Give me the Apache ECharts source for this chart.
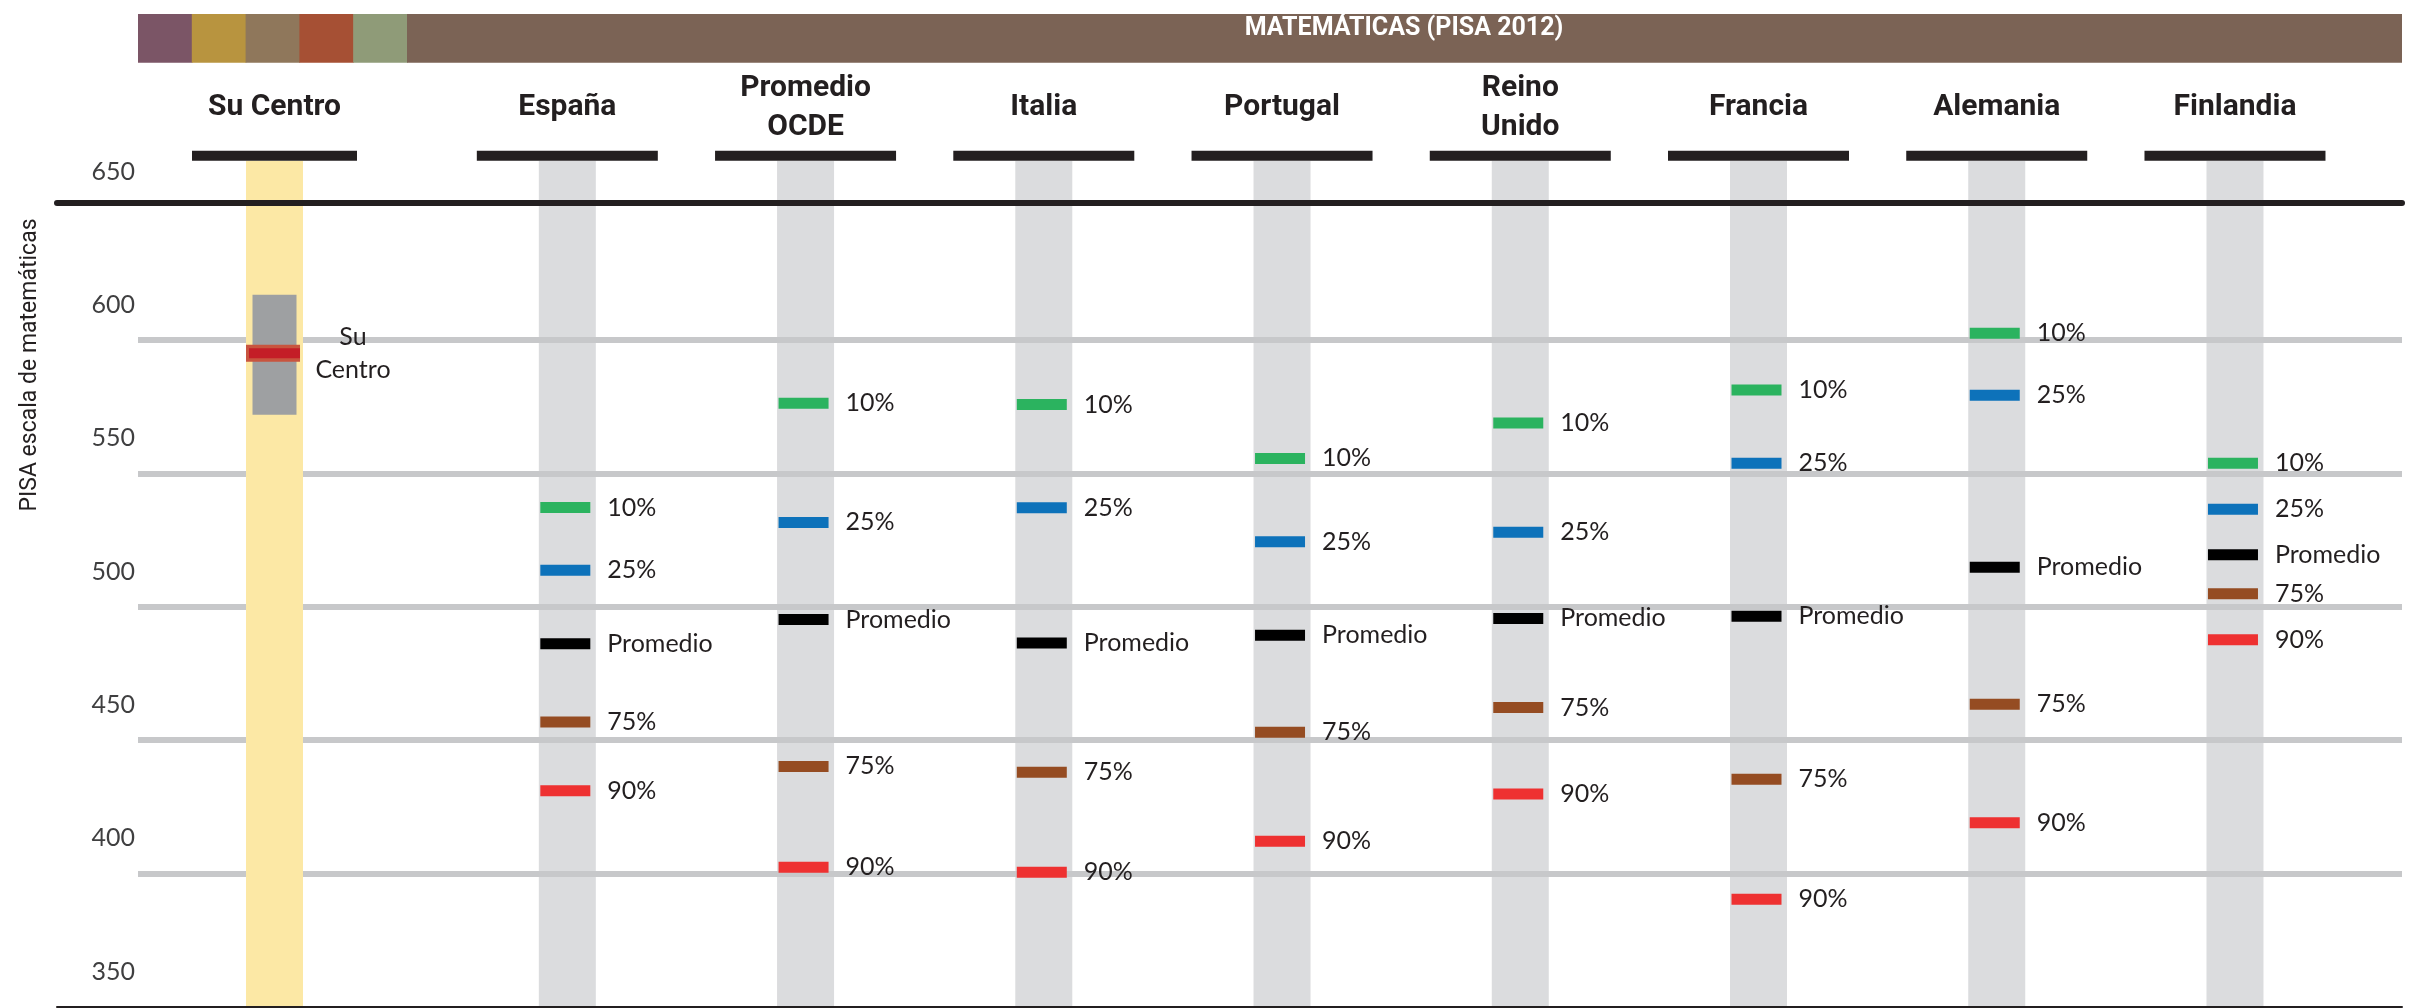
<!DOCTYPE html>
<html><head><meta charset="utf-8">
<script src="https://cdn.jsdelivr.net/npm/echarts@6/dist/echarts.min.js"></script>
<style>html,body{margin:0;padding:0;background:#fff}#chart{width:2412px;height:1008px}</style>
</head><body><div id="chart"></div>
<script>
// ---------------- DATA ----------------
const chartTitle = 'MATEMÁTICAS (PISA 2012)';
const yAxisName = 'PISA escala de matemáticas';
const centerName = ['Su Centro'];
const centerLow = [572];
const centerHigh = [617];
const centerScore = [595];
const centerLabel = 'Su\nCentro';
const countries = ['España', 'Promedio\nOCDE', 'Italia', 'Portugal', 'Reino\nUnido', 'Francia', 'Alemania', 'Finlandia'];
const p10 = [537.2, 576.3, 575.8, 555.6, 568.9, 581.3, 602.5, 553.8];
const p25 = [513.7, 531.6, 537.1, 524.4, 527.9, 553.8, 579.3, 536.5];
const promedio = [486.1, 495.2, 486.4, 489.3, 495.6, 496.4, 514.8, 519.5];
const p75 = [456.8, 440.1, 437.9, 452.9, 462.2, 435.3, 463.4, 504.9];
const p90 = [431.0, 402.3, 400.4, 412.0, 429.8, 390.3, 419.0, 487.6];
const markerNames = ['10%', '25%', 'Promedio', '75%', '90%'];
const markerValues = [p10, p25, promedio, p75, p90];
const yMin = 350, yMax = 650, yStep = 50;

// ---------------- STYLE ----------------
const markerColors = ['#2BB35F', '#0D72BA', '#000000', '#954C22', '#EE3131'];
const bandColors = ['#7B5566', '#B8943F', '#8F775B', '#A65034', '#8F9B78'];
const bandBrown = '#7B6355';
const ink = '#231F20';
const colGray = '#DBDCDE';
const lineGray = '#C7C8CA';
const yellow = '#FCE8A5';
const labelFont = 'Lato, "Noto Sans", sans-serif';
const headFont = 'Roboto, "Noto Sans", sans-serif';

const GT = 206.7, GB = 1.3;

const chart = echarts.init(document.getElementById('chart'), null, {renderer: 'canvas'});

function columnRender(colW, barW) {
  return function (params, api) {
    const c = api.coord([api.value(0), yMax]);
    const cs = params.coordSys;
    const bottom = cs.y + cs.height + 3;
    return {
      type: 'group',
      children: [
        {type: 'rect', shape: {x: c[0] - colW / 2, y: cs.y - 46, width: colW, height: bottom - (cs.y - 46)},
         style: {fill: params.seriesIndex === 0 ? yellow : colGray}},
        {type: 'rect', shape: {x: c[0] - barW / 2, y: cs.y - 56, width: barW, height: 10}, style: {fill: ink}}
      ]
    };
  };
}

const scatterSeries = markerNames.map((name, k) => ({
  type: 'scatter', name: name, xAxisIndex: 4, yAxisIndex: 3, z: 5,
  data: markerValues[k],
  symbol: 'rect', symbolSize: [50, 11], symbolOffset: [-2, 0],
  itemStyle: {color: markerColors[k], opacity: 1},
  label: {show: true, position: 'right', distance: 17, formatter: name,
          color: ink, fontFamily: labelFont, fontSize: 25},
  emphasis: {disabled: true}, silent: true
}));

const option = {
  animation: false,
  backgroundColor: '#fff',
  graphic: [
    ...bandColors.map((col, i) => ({type: 'rect', shape: {x: 138 + i * 53.8, y: 14, width: 54.5, height: 48.7}, style: {fill: col}})),
    {type: 'rect', shape: {x: 407, y: 14, width: 1995, height: 48.7}, style: {fill: bandBrown}},
    {type: 'text', x: 1404, y: 29, style: {text: chartTitle, align: 'center', verticalAlign: 'middle', fill: '#fff',
      fontSize: 25, fontWeight: 'bold', fontFamily: headFont}},
    {type: 'text', x: 30, y: 365, rotation: Math.PI / 2, style: {text: yAxisName, align: 'center', verticalAlign: 'middle',
      fill: ink, fontSize: 23, fontFamily: headFont}}
  ],
  grid: [
    {left: 57, right: 10, top: 203, bottom: GB, outerBoundsMode: 'none'},
    {left: 138, right: 10, top: GT, bottom: GB, outerBoundsMode: 'none'},
    {left: 174.5, width: 200, top: GT, bottom: GB, outerBoundsMode: 'none'},
    {left: 448.2, width: 1905.9, top: GT, bottom: GB, outerBoundsMode: 'none'}
  ],
  xAxis: [
    {gridIndex: 0, type: 'value', position: 'top', min: 0, max: 1, z: 10,
     axisLine: {show: true, onZero: false, lineStyle: {color: ink, width: 6}},
     axisTick: {show: false}, axisLabel: {show: false}, splitLine: {show: false}},
    {gridIndex: 0, type: 'value', position: 'bottom', min: 0, max: 1, z: 10,
     axisLine: {show: true, onZero: false, lineStyle: {color: ink, width: 2}},
     axisTick: {show: false}, axisLabel: {show: false}, splitLine: {show: false}},
    {gridIndex: 1, type: 'value', show: false, min: 0, max: 1},
    {gridIndex: 2, type: 'category', data: centerName, position: 'top',
     axisLine: {show: false}, axisTick: {show: false}, splitLine: {show: false},
     axisLabel: {margin: 99, verticalAlign: 'middle', lineHeight: 39, color: ink, fontFamily: headFont, fontWeight: 'bold', fontSize: 30}},
    {gridIndex: 3, type: 'category', data: countries, position: 'top',
     axisLine: {show: false}, axisTick: {show: false}, splitLine: {show: false},
     axisLabel: {margin: 99, verticalAlign: 'middle', lineHeight: 39, interval: 0, color: ink, fontFamily: headFont, fontWeight: 'bold', fontSize: 30}}
  ],
  yAxis: [
    {gridIndex: 0, type: 'value', min: 0, max: 1, show: false},
    {gridIndex: 1, type: 'value', min: yMin, max: yMax, interval: yStep, z: 3,
     axisLine: {show: false}, axisTick: {show: false},
     splitLine: {show: true, showMinLine: false, showMaxLine: false, lineStyle: {color: lineGray, width: 6}},
     axisLabel: {show: true, margin: 3, showMinLabel: true, showMaxLabel: true, verticalAlign: 'middle',
                 formatter: v => '{a|' + v + '}\n{b| }',
                 rich: {a: {color: '#3F3F40', fontFamily: labelFont, fontSize: 25, lineHeight: 30},
                        b: {fontSize: 10, height: 70, lineHeight: 70}}}},
    {gridIndex: 2, type: 'value', min: yMin, max: yMax, interval: yStep, show: false},
    {gridIndex: 3, type: 'value', min: yMin, max: yMax, interval: yStep, show: false}
  ],
  series: [
    {type: 'custom', name: 'centerColumn', xAxisIndex: 3, yAxisIndex: 2, z: 4, clip: false, silent: true,
     data: centerName.map((_, i) => [i, yMax]), encode: {x: 0, y: 1},
     renderItem: columnRender(57, 165)},
    {type: 'custom', name: 'countryColumns', xAxisIndex: 4, yAxisIndex: 3, z: 1, clip: false, silent: true,
     data: countries.map((_, i) => [i, yMax]), encode: {x: 0, y: 1},
     renderItem: columnRender(57, 181)},
    {type: 'custom', name: 'centerScore', xAxisIndex: 3, yAxisIndex: 2, z: 6, clip: false, silent: true,
     data: centerName.map((_, i) => [i, centerLow[i], centerHigh[i], centerScore[i]]), encode: {x: 0, y: [1, 2, 3]},
     renderItem: function (params, api) {
       const lo = api.coord([api.value(0), api.value(1)]);
       const hi = api.coord([api.value(0), api.value(2)]);
       const sc = api.coord([api.value(0), api.value(3)]);
       const x = lo[0];
       return {type: 'group', children: [
         {type: 'rect', shape: {x: x - 22, y: hi[1], width: 44, height: lo[1] - hi[1]}, style: {fill: '#9EA0A2'}},
         {type: 'rect', shape: {x: x - 28.5, y: sc[1] - 8.5, width: 54, height: 17}, style: {fill: '#C8553F'}},
         {type: 'rect', shape: {x: x - 25.5, y: sc[1] - 5, width: 51, height: 10}, style: {fill: '#C41E27'}},
         {type: 'text', x: x + 78.5, y: sc[1], style: {text: centerLabel, align: 'center', verticalAlign: 'middle',
           lineHeight: 33, fill: ink, fontFamily: labelFont, fontSize: 25}}
       ]};
     }},
    ...scatterSeries
  ]
};
chart.setOption(option);
</script></body></html>
